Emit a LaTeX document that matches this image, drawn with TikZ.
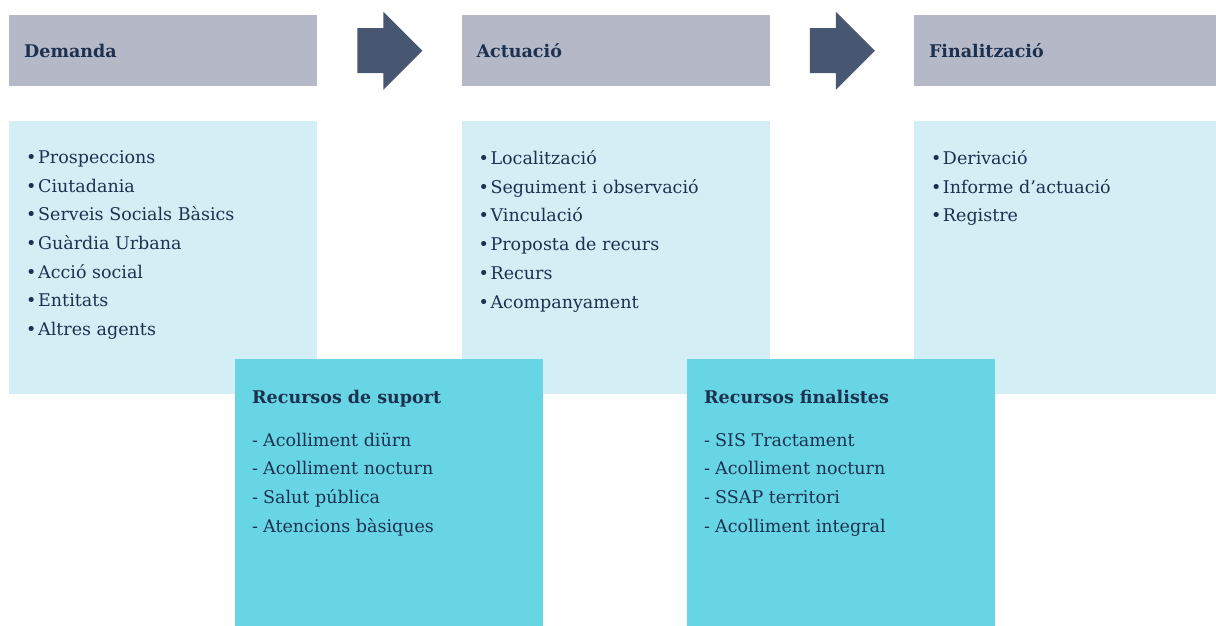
\documentclass[tikz,border=0pt]{standalone}
\usepackage{fontspec}
\setmainfont{DejaVu Serif}
\usetikzlibrary{positioning,calc}
\definecolor{headgrey}{HTML}{B5B8C6}
\definecolor{arrowblue}{HTML}{475671}
\definecolor{paleblue}{HTML}{D3EEF4}
\definecolor{boxcyan}{HTML}{68D5E5}
\definecolor{navy}{HTML}{1C3150}
\newcommand{\bul}{\makebox[12pt][l]{•}}
\newcommand{\dsh}{\makebox[11pt][l]{-}}
\begin{document}
\begin{tikzpicture}[x=1pt,y=-1pt,text=navy,font=\fontsize{17.5}{28.7}\selectfont,
    head/.style={fill=headgrey,minimum width=308pt,minimum height=71pt,text width=278pt,
      inner xsep=15pt,inner ysep=0pt,align=left,font=\fontsize{17.5}{20}\selectfont\bfseries},
    panel/.style={fill=paleblue,minimum width=308pt,minimum height=273pt,inner sep=0pt},
    resbox/.style={fill=boxcyan,minimum width=308pt,minimum height=267pt,inner sep=0pt,anchor=north west},
    items/.style={inner sep=0pt,align=left,anchor=north west}]
  \useasboundingbox (0,0) rectangle (1216,626);
  % headers
  \node[head,anchor=north west] (dem) at (9,15) {Demanda};
  \node[head,right=144pt of dem] (act) {Actuació};
  \node[head,right=144pt of act] (fin) {Finalització};
  % arrows between the stages
  \foreach \a/\b in {dem/act,act/fin}{
    \coordinate (mid) at ($(\a.east)!0.5!(\b.west)$);
    \fill[arrowblue,shift={(mid)}] (-32,-22.5) -- (-6,-22.5) -- (-6,-39) -- (33,0)
      -- (-6,39) -- (-6,22.5) -- (-32,22.5) -- cycle;
  }
  % panels
  \node[panel,below=34pt of dem] (dempanel) {};
  \node[panel,below=34pt of act] (actpanel) {};
  \node[panel,below=34pt of fin] (finpanel) {};
  \node[items] (demlist) at ([xshift=17pt,yshift=-30pt]dempanel.north west)
    {\bul Prospeccions\\ \bul Ciutadania\\ \bul Serveis Socials Bàsics\\ \bul Guàrdia Urbana\\
     \bul Acció social\\ \bul Entitats\\ \bul Altres agents};
  \node[items] (actlist) at ([xshift=17pt,yshift=-30pt]actpanel.north west)
    {\bul Localització\\ \bul Seguiment i observació\\ \bul Vinculació\\ \bul Proposta de recurs\\
     \bul Recurs\\ \bul Acompanyament};
  \node[items] (finlist) at ([xshift=17pt,yshift=-30pt]finpanel.north west)
    {\bul Derivació\\ \bul Informe d’actuació\\ \bul Registre};
  % resources
  \node[resbox] (suport) at (235,359) {};
  \node[resbox] (finalist) at (687,359) {};
  \node[items] (suplist) at ([xshift=17pt,yshift=-31pt]suport.north west)
    {\textbf{Recursos de suport}\\[14pt] \dsh Acolliment diürn\\ \dsh Acolliment nocturn\\
     \dsh Salut pública\\ \dsh Atencions bàsiques};
  \node[items] (finallist) at ([xshift=17pt,yshift=-31pt]finalist.north west)
    {\textbf{Recursos finalistes}\\[14pt] \dsh SIS Tractament\\ \dsh Acolliment nocturn\\
     \dsh SSAP territori\\ \dsh Acolliment integral};
\end{tikzpicture}
\end{document}
